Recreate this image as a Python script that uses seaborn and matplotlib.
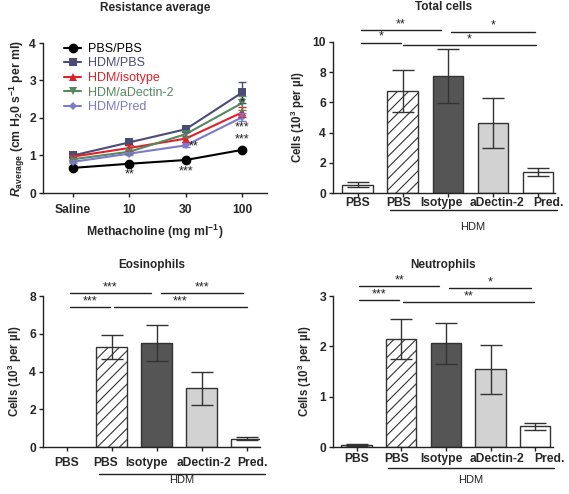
import numpy as np
import pandas as pd
import matplotlib
matplotlib.use("Agg")
import matplotlib.pyplot as plt
import matplotlib.transforms as mtransforms
import seaborn as sns

sns.set_theme(style="ticks")
plt.rcParams['font.family'] = ['Liberation Sans', 'DejaVu Sans']
plt.rcParams['mathtext.fontset'] = 'custom'
plt.rcParams['mathtext.rm'] = 'Liberation Sans:bold'
plt.rcParams['mathtext.it'] = 'Liberation Sans:bold:italic'
plt.rcParams['mathtext.bf'] = 'Liberation Sans:bold'
plt.rcParams['hatch.linewidth'] = 0.8

# ---------------- data ----------------
doses = ["Saline", "10", "30", "100"]
series_names = ["PBS/PBS", "HDM/PBS", "HDM/isotype", "HDM/aDectin-2", "HDM/Pred"]
res_pbs_pbs = [0.67, 0.78, 0.88, 1.15]
res_hdm_pbs = [1.00, 1.35, 1.70, 2.68]
res_hdm_iso = [0.97, 1.20, 1.45, 2.15]
res_hdm_adec = [0.90, 1.10, 1.57, 2.40]
res_hdm_pred = [0.83, 1.05, 1.27, 2.02]
err_pbs_pbs = [0.03, 0.03, 0.03, 0.04]
err_hdm_pbs = [0.07, 0.07, 0.08, 0.28]
err_hdm_iso = [0.05, 0.07, 0.08, 0.13]
err_hdm_adec = [0.04, 0.05, 0.07, 0.18]
err_hdm_pred = [0.04, 0.05, 0.05, 0.10]

groups = ["PBS", "PBS ", "Isotype", "aDectin-2", "Pred."]
tick_labels = ["PBS", "PBS", "Isotype", "aDectin-2", "Pred."]
total_cells = [0.55, 6.75, 7.75, 4.65, 1.40]
total_err = [0.15, 1.40, 1.80, 1.65, 0.27]
eos_cells = [0.0, 5.30, 5.50, 3.10, 0.43]
eos_err = [0.0, 0.65, 0.97, 0.90, 0.08]
neut_cells = [0.03, 2.14, 2.06, 1.54, 0.41]
neut_err = [0.02, 0.40, 0.41, 0.48, 0.07]

line_colors = ["#000000", "#4b4b78", "#e0202a", "#55885e", "#7b7bc8"]
line_markers = ["o", "s", "^", "v", "D"]
line_msizes = [7, 6, 6, 6, 4]
bar_colors = ["white", "white", "#555555", "#d2d2d2", "white"]
bar_hatches = [None, "///", None, None, None]

fig = plt.figure(figsize=(5.69, 4.94), dpi=100)

W, H = 569.0, 494.0
def axpos(l, r, t, b):
    return [l / W, 1 - b / H, (r - l) / W, (b - t) / H]

ax_line = fig.add_axes(axpos(43, 267, 43, 193))
ax_tot = fig.add_axes(axpos(333, 555, 42, 193))
ax_eos = fig.add_axes(axpos(43, 260, 296, 447))
ax_neu = fig.add_axes(axpos(333, 553, 296, 447))

tick_fs = 8.7
title_fs = 8.5
star_fs = 9

def style_axis(ax):
    for s in ["top", "right"]:
        ax.spines[s].set_visible(False)
    for s in ["left", "bottom"]:
        ax.spines[s].set_linewidth(1.0)
        ax.spines[s].set_color("#222222")
    ax.tick_params(axis="both", direction="out", length=3, width=1.0,
                   color="#222222", labelsize=tick_fs, pad=2)
    for lab in ax.get_xticklabels() + ax.get_yticklabels():
        lab.set_fontweight("bold")

# ---------------- line chart ----------------
series_vals = [res_pbs_pbs, res_hdm_pbs, res_hdm_iso, res_hdm_adec, res_hdm_pred]
series_errs = [err_pbs_pbs, err_hdm_pbs, err_hdm_iso, err_hdm_adec, err_hdm_pred]
rows = []
for name, vals in zip(series_names, series_vals):
    for i, (d, v) in enumerate(zip(doses, vals)):
        rows.append({"series": name, "x": i, "dose": d, "value": v})
df_line = pd.DataFrame(rows)

for k, name in enumerate(series_names):
    sub = df_line[df_line.series == name]
    ax_line.errorbar(sub["x"], sub["value"], yerr=series_errs[k], fmt="none",
                     ecolor=line_colors[k], elinewidth=1.0, capsize=3, capthick=1.0,
                     zorder=2 + k * 0.01)
    sns.lineplot(data=sub, x="x", y="value", color=line_colors[k],
                 marker=line_markers[k], markersize=line_msizes[k],
                 markeredgewidth=0, linewidth=1.5, ax=ax_line, label=name)
ax_line.set_xlim(-0.53, 3.44)
ax_line.set_ylim(0, 4)
ax_line.set_xticks(range(len(doses)))
ax_line.set_xticklabels(doses)
ax_line.set_yticks([0, 1, 2, 3, 4])
ax_line.set_xlabel("Methacholine (mg ml$^{-1}$)", fontsize=8.8, fontweight="bold", labelpad=5)
ax_line.set_ylabel(r"$\mathit{R}_{\mathrm{average}}$ (cm H$_2$0 s$^{-1}$ per ml)",
                   fontsize=8.8, fontweight="bold", labelpad=2)
ax_line.set_title("Resistance average", fontsize=title_fs, fontweight="bold", pad=23)
leg = ax_line.legend(loc="upper left", bbox_to_anchor=(0.06, 1.05), frameon=False,
                     fontsize=9, handlelength=1.4, handletextpad=0.5,
                     labelspacing=0.2, borderaxespad=0.2)
for t, c in zip(leg.get_texts(), line_colors):
    t.set_color(c)
style_axis(ax_line)
ax_line.tick_params(axis="x", pad=5)

for (x, y, s) in [(1, 0.50, "**"), (2, 0.58, "***"), (2.14, 1.23, "**"),
                  (3, 1.43, "***"), (3, 1.76, "***"), (3, 2.42, "*")]:
    ax_line.text(x, y, s, ha="center", va="center", fontsize=star_fs, color="#222222")

# ---------------- bar charts ----------------
def bar_panel(ax, vals, errs, title, ylim, yticks, sig, hdm_line_y, hdm_text_y, xlim,
              label_pad, title_pad, shifts):
    df = pd.DataFrame({"group": groups, "value": vals})
    sns.barplot(data=df, x="group", y="value", order=groups, ax=ax, width=0.68,
                errorbar=None, color="white")
    for k, p in enumerate(ax.patches):
        p.set_facecolor(bar_colors[k])
        p.set_edgecolor("#333333")
        p.set_linewidth(1.0 if vals[k] > 0 else 0)
        if bar_hatches[k]:
            p.set_hatch(bar_hatches[k])
    pos = [i for i in range(len(groups)) if vals[i] > 0]
    ax.errorbar(pos, [vals[i] for i in pos], yerr=[errs[i] for i in pos], fmt="none",
                ecolor="#333333", elinewidth=1.0, capsize=8, capthick=1.0, zorder=3)
    ax.set_xlim(*xlim)
    ax.set_ylim(*ylim)
    ax.set_yticks(yticks)
    ax.set_xticks(range(len(groups)))
    ax.set_xticklabels(tick_labels)
    ax.set_xlabel("")
    ax.set_ylabel("Cells (10$^3$ per µl)", fontsize=8.3, fontweight="bold", labelpad=4)
    ax.set_title(title, fontsize=title_fs, fontweight="bold", pad=title_pad)
    style_axis(ax)
    ax.tick_params(axis="x", pad=label_pad)
    for lab, dx in zip(ax.get_xticklabels(), shifts):
        lab.set_transform(lab.get_transform() +
                          mtransforms.ScaledTranslation(dx / 100.0, 0, fig.dpi_scale_trans))
    for (x0, x1, y, s) in sig:
        ax.plot([x0, x1], [y, y], color="#222222", lw=1.0, clip_on=False)
        ax.text((x0 + x1) / 2, y, s, ha="center", va="bottom", fontsize=star_fs,
                color="#222222", clip_on=False)
    trans = ax.get_xaxis_transform()
    ax.plot([0.71, 4.42], [hdm_line_y, hdm_line_y], color="#222222", lw=1.0,
            transform=trans, clip_on=False)
    ax.text(2.55, hdm_text_y, "HDM", ha="center", va="center", fontsize=8,
            transform=trans, color="#222222")

bar_panel(ax_tot, total_cells, total_err, "Total cells", (0, 10), [0, 2, 4, 6, 8, 10],
          [(0.07, 0.95, 9.95, "*"), (0.07, 1.85, 10.78, "**"),
           (1.0, 3.96, 9.8, "*"), (2.07, 3.93, 10.67, "*")],
          -0.115, -0.225, (-0.55, 4.38), 0, 23, [0, -4, -6, 4, 11])
bar_panel(ax_eos, eos_cells, eos_err, "Eosinophils", (0, 8), [0, 2, 4, 6, 8],
          [(0.06, 0.96, 7.4, "***"), (0.06, 1.87, 8.16, "***"),
           (1.04, 4.0, 7.4, "***"), (2.1, 3.93, 8.16, "***")],
          -0.177, -0.216, (-0.53, 4.3), 4, 20, [0, -6, -10, 2, 6])
bar_panel(ax_neu, neut_cells, neut_err, "Neutrophils", (0, 3), [0, 1, 2, 3],
          [(0.06, 0.96, 2.92, "***"), (0.06, 1.85, 3.19, "**"),
           (1.03, 3.98, 2.88, "**"), (2.08, 3.9, 3.16, "*")],
          -0.137, -0.22, (-0.53, 4.4), 1, 20, [0, -5, -4, 6, 14])

fig.savefig("out.png", dpi=100)
